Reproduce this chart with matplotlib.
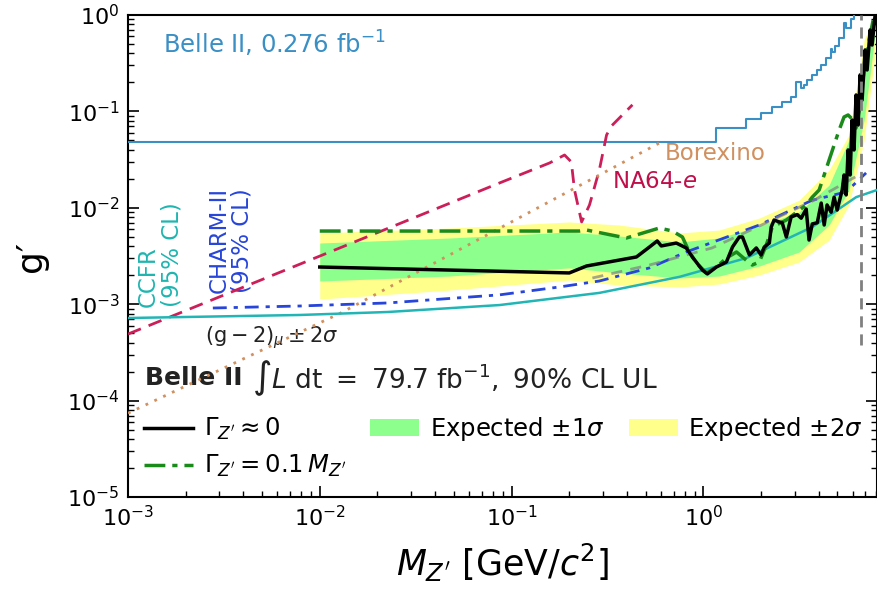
import matplotlib

matplotlib.use("Agg")

import matplotlib.pyplot as plt
from matplotlib.lines import Line2D
from matplotlib.patches import Patch

# Belle II 0.276 fb^-1 (previous result, step curve)
belle_old_mass = [1e-3, 1.17, 1.66, 2.0, 2.29, 2.58, 2.86, 3.03, 3.22, 3.36, 3.49,
                  3.70, 3.93, 4.12, 4.36, 4.62, 4.70, 4.87, 5.11, 5.42, 5.56, 5.90, 6.11]
belle_old_g = [0.0485, 0.0678, 0.084, 0.097, 0.112, 0.126, 0.140, 0.203, 0.174, 0.188, 0.212,
               0.24, 0.27, 0.30, 0.356, 0.44, 0.41, 0.48, 0.573, 0.82, 0.73, 0.90, 1.0]

# NA64-e
na64_mass = [1e-3, 0.0866, 0.158, 0.189, 0.205, 0.213, 0.232, 0.255, 0.287, 0.313, 0.332, 0.427]
na64_g = [4.9e-4, 0.0181, 0.0292, 0.0353, 0.0299, 0.0153, 0.00713, 0.0107, 0.0247, 0.0569, 0.0706, 0.117]

# Borexino
borexino_mass = [1e-3, 0.01285, 0.59]
borexino_g = [7.4e-5, 8.1e-4, 0.047]

# CCFR
ccfr_mass = [1e-3, 7.87e-3, 0.0226, 0.0866, 0.287, 0.75, 1.675, 3.70, 6.27, 8.05]
ccfr_g = [7.19e-4, 7.73e-4, 8.3e-4, 9.8e-4, 1.31e-3, 1.92e-3, 3.01e-3, 6.32e-3, 0.0129, 0.0153]

# CHARM-II
charm_mass = [2.77e-3, 7.87e-3, 0.0226, 0.0866, 0.178, 0.287, 0.524, 0.815, 1.96, 3.70, 5.56, 7.06]
charm_g = [9.13e-4, 9.58e-4, 1.03e-3, 1.25e-3, 1.51e-3, 1.74e-3, 2.38e-3, 3.48e-3, 6.63e-3, 0.012, 0.0146, 0.023]

# (g-2)_mu
gm2_mass = [0.264, 0.524, 1.11, 1.96, 3.79, 6.49]
gm2_g = [0.00187, 0.00255, 0.00383, 0.00647, 0.0120, 0.0220]

# expected bands
band_mass = [0.01, 0.0475, 0.200, 0.365, 0.750, 1.21, 1.96, 3.16, 4.53, 5.75, 6.9, 7.8]
yellow_low = [0.00113, 0.00140, 0.00178, 0.00158, 0.00151, 0.00162, 0.00201, 0.00274, 0.00463, 0.0107, 0.0505, 0.34]
green_low = [0.00174, 0.00196, 0.00238, 0.00211, 0.00187, 0.00196, 0.00249, 0.00348, 0.00663, 0.0153, 0.0814, 0.55]
green_high = [0.00431, 0.00486, 0.00561, 0.00510, 0.00442, 0.00486, 0.00647, 0.00904, 0.0172, 0.0505, 0.341, 1.0]
yellow_high = [0.00548, 0.00617, 0.00713, 0.00663, 0.00548, 0.00588, 0.00783, 0.0120, 0.0247, 0.057, 0.55, 1.0]

# observed, Gamma ~ 0
obs_mass = [0.01, 0.0475, 0.200, 0.246, 0.448, 0.524, 0.575, 0.604, 0.723, 0.815, 0.877, 0.989,
            1.05, 1.17, 1.32, 1.42, 1.54, 1.60, 1.74, 1.89, 2.00, 2.08, 2.21, 2.26, 2.34, 2.49,
            2.58, 2.71, 2.87, 3.09, 3.24, 3.44, 3.56, 3.70, 3.93, 4.12, 4.27, 4.42, 4.64, 4.81,
            4.99, 5.30, 5.42, 5.56, 5.69, 5.83, 5.97, 6.11, 6.26, 6.42, 6.57, 6.73, 6.98, 7.15,
            7.41, 7.59, 7.87]
obs_g = [0.00243, 0.00226, 0.00211, 0.00249, 0.00309, 0.00392, 0.00453, 0.00402, 0.00431, 0.00383,
         0.00309, 0.00226, 0.00206, 0.00243, 0.00274, 0.00392, 0.00498, 0.00498, 0.00324, 0.00383,
         0.00324, 0.00392, 0.00431, 0.00632, 0.00747, 0.00713, 0.00700, 0.00498, 0.00803, 0.00850,
         0.00780, 0.0097, 0.00463, 0.00680, 0.00700, 0.0112, 0.00663, 0.0107, 0.0090, 0.0129,
         0.00948, 0.0153, 0.0219, 0.0136, 0.0398, 0.0219, 0.0814, 0.0398, 0.148, 0.0722, 0.239,
         0.131, 0.434, 0.269, 0.699, 0.488, 1.0]

# observed, Gamma = 0.1 M
wide_mass = [0.01, 0.226, 0.246, 0.397, 0.590, 0.690, 0.778, 0.845, 0.921, 1.04, 1.17, 1.32,
             1.49, 1.67, 1.80, 1.96, 2.13, 2.29, 2.71, 3.44, 3.70, 4.02, 4.53, 5.11, 5.42,
             5.69, 5.97, 6.26, 6.49, 6.90, 7.33, 7.78]
wide_g = [0.00574, 0.00574, 0.00588, 0.00486, 0.00617, 0.00574, 0.00498, 0.00348, 0.00267, 0.00211,
          0.00243, 0.00301, 0.00348, 0.00287, 0.00255, 0.00274, 0.00411, 0.00632, 0.00747, 0.0107,
          0.0129, 0.0153, 0.0313, 0.0641, 0.0875, 0.0918, 0.0834, 0.0673, 0.103, 0.269, 0.55, 1.0]

threshold_mass = 6.65

fig = plt.figure(figsize=(8.78, 5.92), dpi=100)
ax = fig.add_axes([128 / 878, 95 / 592, 749 / 878, 482 / 592])

ax.fill_between(band_mass, yellow_low, yellow_high, color="#ffff8c", lw=0, zorder=2)
ax.fill_between(band_mass, green_low, green_high, color="#8cff8c", lw=0, zorder=3)

ax.plot(belle_old_mass, belle_old_g, color="#3a8fc4", lw=1.5, drawstyle="steps-post", zorder=4)
ax.plot(na64_mass, na64_g, color="#cc1f5a", lw=2, ls=(0, (5, 3)), zorder=4)
ax.plot(borexino_mass, borexino_g, color="#d0905f", lw=2, ls=(0, (1, 2.5)), zorder=4)
ax.plot(ccfr_mass, ccfr_g, color="#22b5b5", lw=1.8, zorder=4)
ax.plot(charm_mass, charm_g, color="#2745d8", lw=2, ls=(0, (5, 2.5, 1.5, 2.5)), zorder=4)
ax.plot(gm2_mass, gm2_g, color="gray", lw=2, ls=(0, (4, 3)), alpha=0.7, zorder=4)
ax.plot(wide_mass, wide_g, color="#1a8a1a", lw=2.5, ls=(0, (6, 2, 1.5, 2)), zorder=5)
ax.plot(obs_mass, obs_g, color="black", lw=2.5, zorder=6)
ax.plot([threshold_mass, threshold_mass], [3.8e-4, 1.0], color="gray", lw=2, ls=(0, (4, 2.5)), zorder=7)

ax.set_xscale("log")
ax.set_yscale("log")
ax.set_xlim(1e-3, 8.05)
ax.set_ylim(1e-5, 1)

ax.tick_params(which="both", direction="in", right=True, top=False, labelsize=16, pad=6)
ax.tick_params(which="major", length=8, width=1.2)
ax.tick_params(which="minor", length=4, width=1)
for spine in ax.spines.values():
    spine.set_linewidth(1.5)

ax.set_xlabel(r"$M_{Z'}$ [GeV/$c^2$]", fontsize=25, labelpad=8)
ax.set_ylabel("g′", fontsize=26, labelpad=14)

ax.text(1.52e-3, 0.40, r"Belle II, 0.276 fb$^{-1}$", color="#3a8fc4", fontsize=17.5,
        va="baseline", ha="left")
ax.text(0.627, 0.031, "Borexino", color="#d0905f", fontsize=16.5, va="baseline", ha="left")
ax.text(0.336, 0.016, r"NA64-$e$", color="#c0104c", fontsize=16.5, va="baseline", ha="left")
ax.text(1.47e-3, 9.3e-4, "CCFR\n(95% CL)", color="#1fb5b0", fontsize=16.5, rotation=90,
        ha="center", va="bottom", multialignment="left", linespacing=1.0)
ax.text(3.43e-3, 1.31e-3, "CHARM-II\n(95% CL)", color="#2745d8", fontsize=16.5, rotation=90,
        ha="center", va="bottom", multialignment="left", linespacing=1.0)
ax.text(2.52e-3, 4.46e-4, r"$(\mathrm{g}-2)_{\mu} \pm 2\sigma$", color="#222222", fontsize=15,
        va="center", ha="left")

ax.text(0.0227, 0.247, "Belle II", fontweight="bold", transform=ax.transAxes,
        fontsize=18, va="center", ha="left", color="#222222")
ax.text(0.166, 0.247,
        r"$\int L\ \mathrm{dt}\ =\ 79.7\ \mathrm{fb}^{-1},\ 90\%\ \mathrm{CL\ UL}$",
        transform=ax.transAxes, fontsize=19, va="center", ha="left", color="#222222")

handles = [
    Line2D([], [], color="black", lw=2.5),
    Line2D([], [], color="#1a8a1a", lw=2.5, ls=(0, (6, 2, 1.5, 2))),
    Patch(facecolor="#8cff8c", edgecolor="none"),
    Patch(facecolor="#ffff8c", edgecolor="none"),
]
labels = [
    r"$\Gamma_{Z'} \approx 0$",
    r"$\Gamma_{Z'} = 0.1\,M_{Z'}$",
    r"Expected $\pm 1\sigma$",
    r"Expected $\pm 2\sigma$",
]
ax.legend(handles, labels, loc="upper left", bbox_to_anchor=(0.009, 0.19), ncol=3,
          frameon=False, fontsize=17.5, handlelength=2.0, columnspacing=1.0,
          handletextpad=0.45, labelspacing=0.45, borderaxespad=0)

fig.savefig("out.png", dpi=100)
